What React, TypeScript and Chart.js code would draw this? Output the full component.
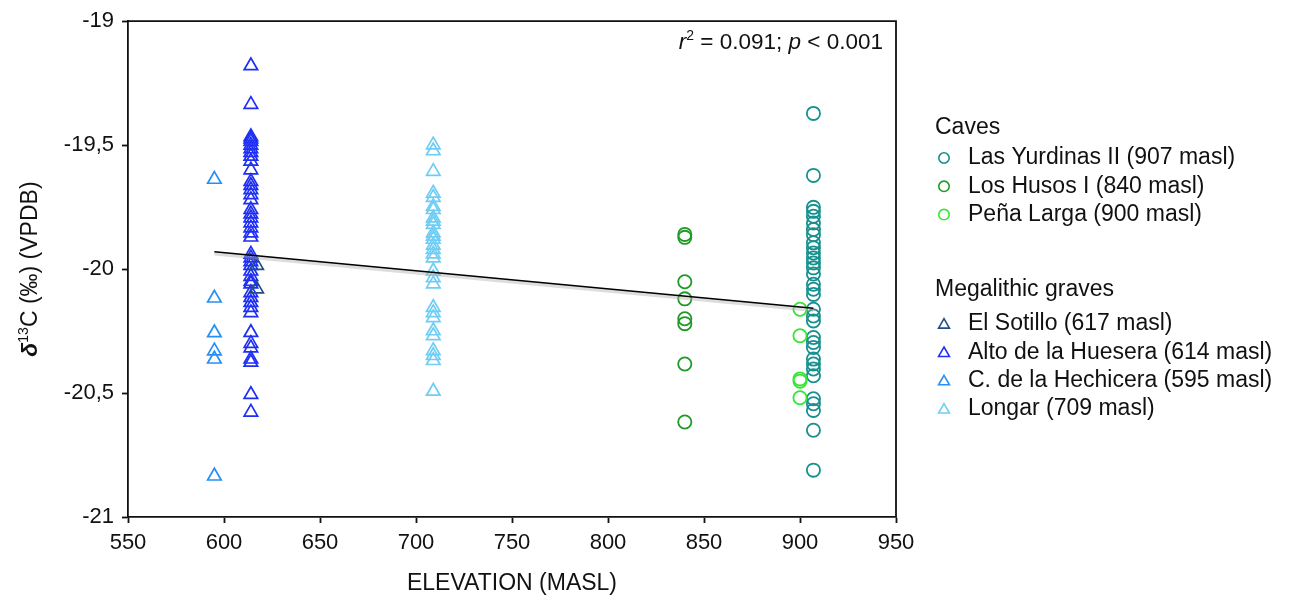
import React, { useEffect, useRef } from "react";
import { Chart, registerables } from "chart.js";

Chart.register(...registerables);

// ---- Data (elevation in masl, δ13C values) ----
const elevYurdinas = 907;
const elevHusos = 840;
const elevPena = 900;
const elevSotillo = 617;
const elevAlto = 614;
const elevHechicera = 595;
const elevLongar = 709;

const yurdinasValues = [
  -19.372, -19.622, -19.751, -19.767, -19.787, -19.814, -19.84, -19.861, -19.894, -19.914,
  -19.935, -19.955, -19.975, -19.995, -20.02, -20.061, -20.081, -20.102, -20.162, -20.189,
  -20.209, -20.276, -20.296, -20.316, -20.363, -20.383, -20.403, -20.43, -20.523, -20.543,
  -20.57, -20.65, -20.811,
];
const husosValues = [-19.86, -19.872, -20.051, -20.12, -20.2, -20.22, -20.383, -20.617];
const penaValues = [-20.162, -20.269, -20.443, -20.452, -20.519];
const sotilloValues = [-19.985, -20.08];
const altoValues = [
  -19.18, -19.336, -19.466, -19.475, -19.485, -19.5, -19.515, -19.53, -19.545, -19.565,
  -19.6, -19.647, -19.663, -19.68, -19.7, -19.72, -19.76, -19.778, -19.794, -19.814,
  -19.834, -19.854, -19.871, -19.94, -19.955, -19.97, -19.985, -20.008, -20.03, -20.05,
  -20.06, -20.095, -20.115, -20.135, -20.155, -20.176, -20.256, -20.3, -20.318, -20.363,
  -20.376, -20.506, -20.577,
];
const hechiceraValues = [-19.638, -20.117, -20.257, -20.33, -20.363, -20.835];
const longarValues = [
  -19.499, -19.523, -19.606, -19.694, -19.711, -19.747, -19.76, -19.794, -19.807, -19.82,
  -19.854, -19.867, -19.88, -19.904, -19.921, -19.939, -19.955, -20.008, -20.035, -20.06,
  -20.155, -20.176, -20.196, -20.249, -20.269, -20.329, -20.349, -20.369, -20.493,
];

const regressionX = [595, 907];
const regressionY = [-19.93, -20.158];

const caveLabels = ["Las Yurdinas II (907 masl)", "Los Husos I (840 masl)", "Peña Larga (900 masl)"];
const graveLabels = [
  "El Sotillo (617 masl)",
  "Alto de la Huesera (614 masl)",
  "C. de la Hechicera (595 masl)",
  "Longar (709 masl)",
];
const caveColors = ["#17908f", "#1f9a24", "#35e635"];
const graveColors = ["#1f4f86", "#1f2ff5", "#2790f5", "#6fcdf5"];

const legendTitles = ["Caves", "Megalithic graves"];

const FONT = "'Liberation Sans', Arial, Helvetica, sans-serif";

function pts(x: number, ys: number[]) {
  return ys.map((y) => ({ x, y }));
}

function drawTriangle(ctx: CanvasRenderingContext2D, x: number, y: number, r: number) {
  ctx.beginPath();
  for (let i = 0; i < 3; i++) {
    const a = (i * 2 * Math.PI) / 3;
    const px = x + Math.sin(a) * r;
    const py = y - Math.cos(a) * r;
    if (i === 0) ctx.moveTo(px, py);
    else ctx.lineTo(px, py);
  }
  ctx.closePath();
  ctx.stroke();
}

function drawRich(
  ctx: CanvasRenderingContext2D,
  pieces: { t: string; font: string; dy: number }[],
  startX: number,
  baseY: number
) {
  let x = startX;
  for (const p of pieces) {
    ctx.font = p.font;
    ctx.fillText(p.t, x, baseY + p.dy);
    x += ctx.measureText(p.t).width;
  }
}

function measureRich(ctx: CanvasRenderingContext2D, pieces: { t: string; font: string; dy: number }[]) {
  let w = 0;
  for (const p of pieces) {
    ctx.font = p.font;
    w += ctx.measureText(p.t).width;
  }
  return w;
}

const decorPlugin = {
  id: "decor",
  afterDraw(chart: any) {
    const ctx: CanvasRenderingContext2D = chart.ctx;
    const ca = chart.chartArea;
    ctx.save();
    // top and right frame
    ctx.strokeStyle = "#111";
    ctx.lineWidth = 1.8;
    ctx.beginPath();
    ctx.moveTo(ca.left, ca.top);
    ctx.lineTo(ca.right, ca.top);
    ctx.lineTo(ca.right, ca.bottom);
    ctx.stroke();

    ctx.fillStyle = "#111";
    ctx.textAlign = "left";
    ctx.textBaseline = "alphabetic";

    // annotation r2 / p
    const ann = [
      { t: "r", font: `italic 22.5px ${FONT}`, dy: 0 },
      { t: "2", font: `14px ${FONT}`, dy: -9 },
      { t: " = 0.091; ", font: `22.5px ${FONT}`, dy: 0 },
      { t: "p", font: `italic 22.5px ${FONT}`, dy: 0 },
      { t: " < 0.001", font: `22.5px ${FONT}`, dy: 0 },
    ];
    const aw = measureRich(ctx, ann);
    drawRich(ctx, ann, ca.right - 13 - aw, ca.top + 28);

    // y axis title (rotated)
    const yt = [
      { t: "δ", font: `italic bold 23px ${FONT}`, dy: 0 },
      { t: "13", font: `14px ${FONT}`, dy: -9 },
      { t: "C (‰) (VPDB)", font: `23px ${FONT}`, dy: 0 },
    ];
    const yw = measureRich(ctx, yt);
    ctx.save();
    ctx.translate(29, (ca.top + ca.bottom) / 2);
    ctx.rotate(-Math.PI / 2);
    drawRich(ctx, yt, -yw / 2, 8);
    ctx.restore();

    // x axis title
    ctx.font = `23px ${FONT}`;
    ctx.textAlign = "center";
    ctx.textBaseline = "middle";
    ctx.fillText("ELEVATION (MASL)", (ca.left + ca.right) / 2, 584);

    // legend
    const lx = 935;
    const markerX = 944;
    const textX = 968;
    ctx.textAlign = "left";
    ctx.textBaseline = "middle";
    ctx.font = `23px ${FONT}`;
    ctx.fillStyle = "#111";
    ctx.fillText(legendTitles[0], lx, 128);
    caveLabels.forEach((lab, i) => {
      const y = 158 + i * 28.3;
      ctx.strokeStyle = caveColors[i];
      ctx.lineWidth = 1.6;
      ctx.beginPath();
      ctx.arc(markerX, y, 5.2, 0, Math.PI * 2);
      ctx.stroke();
      ctx.fillStyle = "#111";
      ctx.fillText(lab, textX, y);
    });
    ctx.fillText(legendTitles[1], lx, 290);
    graveLabels.forEach((lab, i) => {
      const y = 324 + i * 28.3;
      ctx.strokeStyle = graveColors[i];
      ctx.lineWidth = 1.6;
      drawTriangle(ctx, markerX, y + 1, 6.3);
      ctx.fillStyle = "#111";
      ctx.fillText(lab, textX, y);
    });
    ctx.restore();
  },
};

export default function App() {
  const canvasRef = useRef<HTMLCanvasElement | null>(null);

  useEffect(() => {
    if (!canvasRef.current) return;
    const circle = (label: string, color: string, x: number, ys: number[]) => ({
      type: "scatter" as const,
      label,
      data: pts(x, ys),
      pointStyle: "circle",
      pointRadius: 6.6,
      pointBorderWidth: 1.8,
      borderColor: color,
      backgroundColor: "rgba(0,0,0,0)",
      pointBackgroundColor: "rgba(0,0,0,0)",
    });
    const tri = (label: string, color: string, x: number, ys: number[]) => ({
      type: "scatter" as const,
      label,
      data: pts(x, ys),
      pointStyle: "triangle",
      pointRadius: 7.8,
      pointBorderWidth: 1.7,
      borderColor: color,
      backgroundColor: "rgba(0,0,0,0)",
      pointBackgroundColor: "rgba(0,0,0,0)",
    });

    const chart = new Chart(canvasRef.current, {
      type: "scatter",
      data: {
        datasets: [
          {
            type: "scatter",
            label: "regression",
            data: regressionX.map((x, i) => ({ x, y: regressionY[i] })),
            showLine: true,
            borderColor: "#000",
            borderWidth: 1.6,
            pointRadius: 0,
            order: -2,
          } as any,
          {
            type: "scatter",
            label: "band",
            data: regressionX.map((x, i) => ({ x, y: regressionY[i] - 0.007 })),
            showLine: true,
            borderColor: "rgba(170,170,170,0.4)",
            borderWidth: 4,
            pointRadius: 0,
            order: -1,
          } as any,
          tri(graveLabels[0], graveColors[0], elevSotillo, sotilloValues),
          tri(graveLabels[1], graveColors[1], elevAlto, altoValues),
          tri(graveLabels[2], graveColors[2], elevHechicera, hechiceraValues),
          tri(graveLabels[3], graveColors[3], elevLongar, longarValues),
          circle(caveLabels[2], caveColors[2], elevPena, penaValues),
          circle(caveLabels[0], caveColors[0], elevYurdinas, yurdinasValues),
          circle(caveLabels[1], caveColors[1], elevHusos, husosValues),
        ] as any,
      },
      options: {
        animation: false,
        responsive: true,
        maintainAspectRatio: false,
        layout: { padding: { left: 0, top: 19, right: 405, bottom: 0 } },
        plugins: {
          legend: { display: false },
          tooltip: { enabled: false },
        },
        scales: {
          x: {
            type: "linear",
            min: 550,
            max: 950,
            afterFit: (s: any) => {
              s.height = 81;
            },
            ticks: {
              stepSize: 50,
              color: "#111",
              padding: 7,
              font: { family: FONT, size: 22 },
            },
            grid: {
              drawOnChartArea: false,
              drawTicks: true,
              tickLength: 6,
              tickColor: "#111",
              tickWidth: 1.8,
            },
            border: { color: "#111", width: 1.8 },
          },
          y: {
            type: "linear",
            min: -21,
            max: -19,
            afterFit: (s: any) => {
              s.width = 128;
            },
            ticks: {
              stepSize: 0.5,
              color: "#111",
              padding: 8,
              font: { family: FONT, size: 22 },
              callback: (v: any) => {
                const n = Number(v);
                return Number.isInteger(n) ? String(n) : String(n).replace(".", ",");
              },
            },
            grid: {
              drawOnChartArea: false,
              drawTicks: true,
              tickLength: 6,
              tickColor: "#111",
              tickWidth: 1.8,
            },
            border: { color: "#111", width: 1.8 },
          },
        },
      } as any,
      plugins: [decorPlugin],
    });
    return () => chart.destroy();
  }, []);

  return (
    <div style={{ position: "absolute", left: 0, top: 0, width: 1301, height: 598, background: "#fff" }}>
      <canvas ref={canvasRef} />
    </div>
  );
}
